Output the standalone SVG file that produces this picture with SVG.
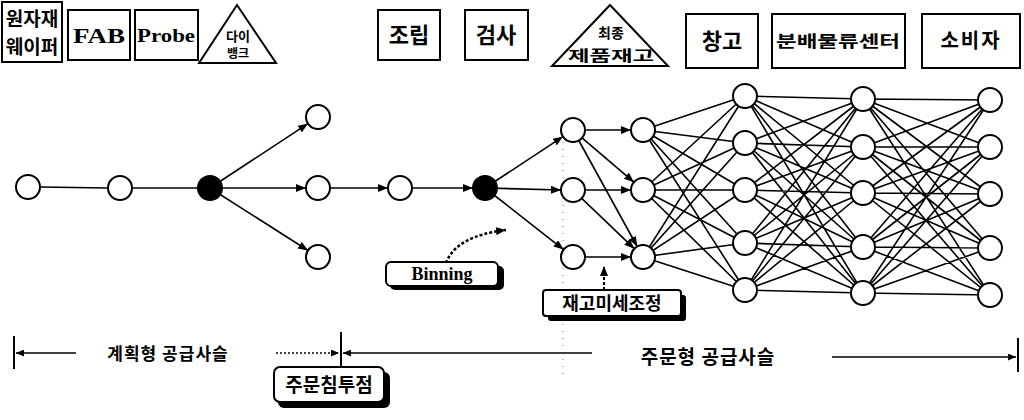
<svg xmlns="http://www.w3.org/2000/svg" width="1024" height="420" viewBox="0 0 1024 420">
<style>
.box{fill:#fff;stroke:#000;stroke-width:2}
.kt{font-family:"Noto Sans CJK KR","Noto Sans",sans-serif;font-weight:bold;fill:#000;text-anchor:middle}
.st{font-family:"Liberation Serif",serif;font-weight:bold;fill:#000;text-anchor:middle}
.n{fill:#fff;stroke:#000;stroke-width:2}
.nb{fill:#000;stroke:#000;stroke-width:2}
.e{stroke:#000;stroke-width:1.6;fill:none}
.ea{stroke:#000;stroke-width:1.6;fill:none;marker-end:url(#ah)}
.lbl{fill:#fff;stroke:#000;stroke-width:2}
.sh{fill:#000}
</style>
<defs>
<marker id="ah" markerUnits="userSpaceOnUse" markerWidth="10" markerHeight="8" refX="10" refY="4" orient="auto"><path d="M0,0 L10,4 L0,8 Z" fill="#000"/></marker>
<marker id="ahs" markerUnits="userSpaceOnUse" markerWidth="8" markerHeight="7" refX="8" refY="3.5" orient="auto"><path d="M0,0 L8,3.5 L0,7 Z" fill="#000"/></marker>
</defs>
<rect width="1024" height="420" fill="#fff"/>

<!-- top legend -->
<g id="raw"><rect class="box" x="2" y="2" width="60" height="60"/><text class="kt" x="32" y="26" font-size="19">원자재</text><text class="kt" x="32" y="54" font-size="19">웨이퍼</text></g>
<g id="fab"><rect class="box" x="68" y="10" width="62" height="50"/><text class="st" x="99" y="43" font-size="21" textLength="52" lengthAdjust="spacingAndGlyphs">FAB</text></g>
<g id="probe"><rect class="box" x="135" y="10" width="63" height="50"/><text class="st" x="166" y="42" font-size="18" textLength="58" lengthAdjust="spacingAndGlyphs">Probe</text></g>
<g id="diebank"><path class="box" d="M237,5 L276,63 L199,63 Z"/><text class="kt" x="238" y="41" font-size="13">다이</text><text class="kt" x="238" y="58" font-size="12">뱅크</text></g>
<g id="assy"><rect class="box" x="378" y="10" width="62" height="50"/><text class="kt" x="409" y="43" font-size="22">조립</text></g>
<g id="test"><rect class="box" x="465" y="10" width="63" height="50"/><text class="kt" x="496" y="43" font-size="22">검사</text></g>
<g id="fgi"><path class="box" d="M610,5 L668,66 L552,66 Z"/><text class="kt" x="611" y="38" font-size="14">최종</text><text class="kt" x="611" y="61" font-size="15" textLength="86" lengthAdjust="spacingAndGlyphs">제품재고</text></g>
<g id="wh"><rect class="box" x="686" y="14" width="72" height="54"/><text class="kt" x="722" y="49" font-size="22">창고</text></g>
<g id="dc"><rect class="box" x="772" y="14" width="133" height="54"/><text class="kt" x="838" y="47" font-size="16" textLength="124" lengthAdjust="spacingAndGlyphs">분배물류센터</text></g>
<g id="cons"><rect class="box" x="922" y="14" width="98" height="54"/><text class="kt" x="971" y="48" font-size="20" letter-spacing="2">소비자</text></g>

<!-- connectors -->
<g id="connectors">
<path class="e" d="M40,187 L108,188 M132,188 L198,188"/>
<path class="ea" d="M210,188 L308,123.6"/>
<path class="ea" d="M210,188 L306,188"/>
<path class="ea" d="M210,188 L308,250.5"/>
<path class="ea" d="M330,188 L388,188"/>
<path class="ea" d="M412,188 L473,188"/>
<path class="ea" d="M485,188 L563,136.6"/>
<path class="ea" d="M485,188 L561,190"/>
<path class="ea" d="M485,188 L563.6,249.6"/>
<path class="ea" d="M585,130 L631,130"/>
<path class="ea" d="M582,137.8 L633.9,182.2"/>
<path class="ea" d="M578.8,140.5 L637.2,246.5"/>
<path class="ea" d="M585,190 L631,190"/>
<path class="ea" d="M581.7,198.3 L634.3,248.7"/>
<path class="ea" d="M585,257 L631,257"/>
<!-- B to C -->
<path class="e" d="M643,130 L745,96 M643,130 L745,143 M643,130 L745,190 M643,130 L745,243 M643,130 L745,290
M643,190 L745,96 M643,190 L745,143 M643,190 L745,190 M643,190 L745,243 M643,190 L745,290
M643,257 L745,96 M643,257 L745,143 M643,257 L745,190 M643,257 L745,243 M643,257 L745,290"/>
<!-- C to D -->
<path class="e" d="M745,96 L863,99 M745,96 L863,147 M745,96 L863,193 M745,96 L863,247 M745,96 L863,293
M745,143 L863,99 M745,143 L863,147 M745,143 L863,193 M745,143 L863,247 M745,143 L863,293
M745,190 L863,99 M745,190 L863,147 M745,190 L863,193 M745,190 L863,247 M745,190 L863,293
M745,243 L863,99 M745,243 L863,147 M745,243 L863,193 M745,243 L863,247 M745,243 L863,293
M745,290 L863,99 M745,290 L863,147 M745,290 L863,193 M745,290 L863,247 M745,290 L863,293"/>
<!-- D to E -->
<path class="e" d="M863,99 L990,100 M863,99 L990,147 M863,99 L990,194 M863,99 L990,248 M863,99 L990,295
M863,147 L990,100 M863,147 L990,147 M863,147 L990,194 M863,147 L990,248 M863,147 L990,295
M863,193 L990,100 M863,193 L990,147 M863,193 L990,194 M863,193 L990,248 M863,193 L990,295
M863,247 L990,100 M863,247 L990,147 M863,247 L990,194 M863,247 L990,248 M863,247 L990,295
M863,293 L990,100 M863,293 L990,147 M863,293 L990,194 M863,293 L990,248 M863,293 L990,295"/>
<!-- faint dotted vertical -->
<path d="M563,128 L563,380" stroke="#777" stroke-width="1" stroke-dasharray="1 6" fill="none"/>
<!-- binning pointer -->
<path d="M446,263 Q456,236 506,230" stroke="#000" stroke-width="2.5" stroke-dasharray="3 2" fill="none" marker-end="url(#ah)"/>
<!-- fine-tuning pointer -->
<path d="M604,290 L604,266" stroke="#000" stroke-width="2" stroke-dasharray="3 2" fill="none" marker-end="url(#ah)"/>
<!-- timeline -->
<path d="M14,336 L14,369 M341,332 L341,368 M1018,338 L1018,372" stroke="#000" stroke-width="2" fill="none"/>
<path d="M76,353 L16,353" stroke="#000" stroke-width="1.6" fill="none" marker-end="url(#ahs)"/>
<path d="M276,353 L339,353" stroke="#000" stroke-width="1.6" stroke-dasharray="2 2" fill="none" marker-end="url(#ahs)"/>
<path d="M592,353 L343,353" stroke="#000" stroke-width="1.6" fill="none" marker-end="url(#ahs)"/>
<path d="M832,357 L1016,357" stroke="#000" stroke-width="1.6" fill="none" marker-end="url(#ahs)"/>
</g>

<!-- nodes -->
<g id="n1"><circle class="n" cx="28" cy="187" r="12"/></g>
<g id="n2"><circle class="n" cx="120" cy="188" r="12"/></g>
<g id="n3"><circle class="nb" cx="210" cy="188" r="12"/></g>
<g id="n4a"><circle class="n" cx="318" cy="117" r="12"/></g>
<g id="n4b"><circle class="n" cx="318" cy="188" r="12"/></g>
<g id="n4c"><circle class="n" cx="318" cy="257" r="12"/></g>
<g id="n5"><circle class="n" cx="400" cy="188" r="12"/></g>
<g id="n6"><circle class="nb" cx="485" cy="188" r="12"/></g>
<g id="a1"><circle class="n" cx="573" cy="130" r="12"/></g>
<g id="a2"><circle class="n" cx="573" cy="190" r="12"/></g>
<g id="a3"><circle class="n" cx="573" cy="257" r="12"/></g>
<g id="b1"><circle class="n" cx="643" cy="130" r="12"/></g>
<g id="b2"><circle class="n" cx="643" cy="190" r="12"/></g>
<g id="b3"><circle class="n" cx="643" cy="257" r="12"/></g>
<g id="c1"><circle class="n" cx="745" cy="96" r="12"/></g>
<g id="c2"><circle class="n" cx="745" cy="143" r="12"/></g>
<g id="c3"><circle class="n" cx="745" cy="190" r="12"/></g>
<g id="c4"><circle class="n" cx="745" cy="243" r="12"/></g>
<g id="c5"><circle class="n" cx="745" cy="290" r="12"/></g>
<g id="d1"><circle class="n" cx="863" cy="99" r="12"/></g>
<g id="d2"><circle class="n" cx="863" cy="147" r="12"/></g>
<g id="d3"><circle class="n" cx="863" cy="193" r="12"/></g>
<g id="d4"><circle class="n" cx="863" cy="247" r="12"/></g>
<g id="d5"><circle class="n" cx="863" cy="293" r="12"/></g>
<g id="e1"><circle class="n" cx="990" cy="100" r="12"/></g>
<g id="e2"><circle class="n" cx="990" cy="147" r="12"/></g>
<g id="e3"><circle class="n" cx="990" cy="194" r="12"/></g>
<g id="e4"><circle class="n" cx="990" cy="248" r="12"/></g>
<g id="e5"><circle class="n" cx="990" cy="295" r="12"/></g>

<!-- callout labels -->
<g id="binning"><rect class="sh" x="390" y="266" width="114" height="24" rx="5"/><rect class="lbl" x="386" y="262" width="112" height="24" rx="5"/><text class="st" x="442" y="280" font-size="18">Binning</text></g>
<g id="finetune"><rect class="sh" x="548" y="295" width="138" height="26" rx="3"/><rect class="lbl" x="543" y="290" width="138" height="26" rx="3"/><text class="kt" x="612" y="310" font-size="18">재고미세조정</text></g>
<g id="cpp"><rect class="sh" x="278" y="372" width="112" height="36" rx="6"/><rect class="lbl" x="274" y="367" width="110" height="35" rx="6"/><text class="kt" x="329" y="392" font-size="19">주문침투점</text></g>

<!-- timeline texts -->
<text class="kt" x="168" y="360" font-size="17" letter-spacing="1">계획형 공급사슬</text>
<text class="kt" x="708" y="364" font-size="19" letter-spacing="1">주문형 공급사슬</text>
</svg>
